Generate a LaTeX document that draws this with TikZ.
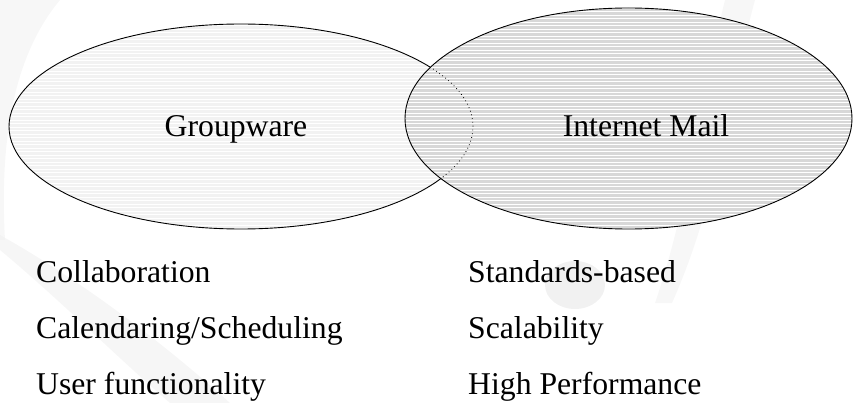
\documentclass[tikz,border=0pt]{standalone}
\usepackage{fontspec}
\setmainfont{Liberation Serif}
\definecolor{lfill}{HTML}{F2F2F2}
\definecolor{rfill}{HTML}{D8D8D8}
\definecolor{swirl}{HTML}{EEEEEE}
\begin{document}
\begin{tikzpicture}[x=1pt,y=-1pt,
  lbl/.style={anchor=base west, inner sep=0pt, font=\fontsize{31.7}{36}\selectfont},
  title/.style={anchor=base, inner sep=0pt, font=\fontsize{31.7}{36}\selectfont},
  outline/.style={draw=black, line width=0.9pt},
  hidden/.style={draw=black, line width=0.8pt, dash pattern=on 0.8pt off 3pt},
  gap/.style={draw=white, line width=0.9pt}]
\useasboundingbox (0,0) rectangle (853,403);
% faint background swirl
\fill[swirl, opacity=0.45] (60,0) .. controls (10,60) and (0,150) .. (5,240) -- (0,240) -- (0,0) -- cycle;
\fill[swirl, opacity=0.5] (0,250) .. controls (60,300) and (120,360) .. (170,403) -- (230,403) .. controls (160,340) and (80,280) .. (0,235) -- cycle;
\fill[swirl, opacity=0.8] (575,285) ellipse [x radius=30pt, y radius=24pt];
\fill[swirl, opacity=0.45] (725,0) .. controls (700,100) and (690,200) .. (655,303) -- (672,303) .. controls (718,200) and (728,100) .. (755,0) -- cycle;
% left ellipse (Groupware)
\begin{scope}
  \clip (241,126.5) ellipse [x radius=232pt, y radius=102.5pt];
  \fill[lfill] (0,0) rectangle (853,403);
  \foreach \yy in {1,4.5,...,260} \draw[gap] (0,\yy) -- (853,\yy);
\end{scope}
\draw[outline] (241,126.5) ellipse [x radius=232pt, y radius=102.5pt];
% right ellipse (Internet Mail)
\begin{scope}
  \clip (628.5,118.5) ellipse [x radius=223.5pt, y radius=110.5pt];
  \fill[rfill] (0,0) rectangle (853,403);
  \foreach \yy in {1,4.5,...,260} \draw[gap] (0,\yy) -- (853,\yy);
  \draw[hidden] (241,126.5) ellipse [x radius=232pt, y radius=102.5pt];
\end{scope}
\draw[outline] (628.5,118.5) ellipse [x radius=223.5pt, y radius=110.5pt];
% titles
\node[title] (gw) at (236,137) {Groupware};
\node[title] (im) at (646,137) {Internet Mail};
% lists
\node[lbl] (c1) at (36,282) {Collaboration};
\node[lbl] (c2) at (36,338) {Calendaring/Scheduling};
\node[lbl] (c3) at (36,394) {User functionality};
\node[lbl] (d1) at (468,282) {Standards-based};
\node[lbl] (d2) at (468,338) {Scalability};
\node[lbl] (d3) at (468,394) {High Performance};
\end{tikzpicture}
\end{document}
